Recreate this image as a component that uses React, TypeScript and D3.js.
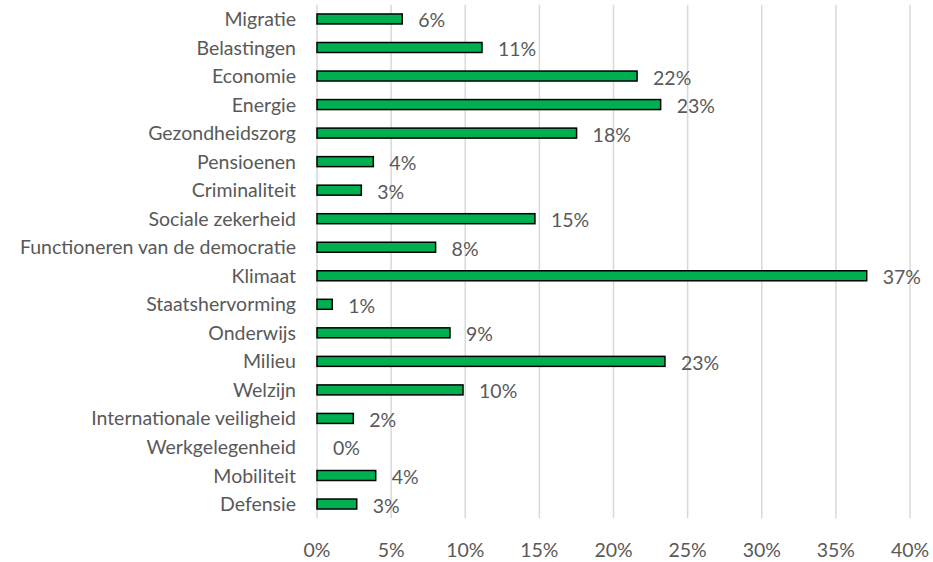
import React from "react";
import * as d3 from "d3";

const categories = [
  "Migratie",
  "Belastingen",
  "Economie",
  "Energie",
  "Gezondheidszorg",
  "Pensioenen",
  "Criminaliteit",
  "Sociale zekerheid",
  "Functioneren van de democratie",
  "Klimaat",
  "Staatshervorming",
  "Onderwijs",
  "Milieu",
  "Welzijn",
  "Internationale veiligheid",
  "Werkgelegenheid",
  "Mobiliteit",
  "Defensie",
];

const values = [
  0.0575, 0.1113, 0.2159, 0.2318, 0.1751, 0.038, 0.0299, 0.147, 0.08, 0.3708,
  0.0103, 0.0897, 0.2347, 0.0985, 0.0245, 0.0, 0.0396, 0.0268,
];

const xTicks = [0, 0.05, 0.1, 0.15, 0.2, 0.25, 0.3, 0.35, 0.4];

const W = 933;
const H = 562;
const FONT = "Lato, 'Open Sans', sans-serif";
const TEXT = "#595959";

export default function App() {
  const x = d3.scaleLinear().domain([0, 0.4]).range([317, 910]);
  const y = d3
    .scaleBand<string>()
    .domain(categories)
    .range([4.7, 518.3])
    .paddingInner(0.65)
    .paddingOuter(0.325);
  const fmt = d3.format(".0%");
  const plotTop = 4.7;
  const plotBottom = 518.3;

  return (
    <svg
      width={W}
      height={H}
      style={{ position: "absolute", left: 0, top: 0, background: "#fff" }}
      fontFamily={FONT}
    >
      <rect x={0} y={0} width={W} height={H} fill="#fff" />
      {xTicks.map((t) => (
        <line
          key={"g" + t}
          x1={x(t)}
          x2={x(t)}
          y1={plotTop}
          y2={plotBottom}
          stroke="#d9d9d9"
          strokeWidth={1.5}
        />
      ))}
      {xTicks.map((t) => (
        <text
          key={"t" + t}
          x={x(t)}
          y={550}
          dy="0.36em"
          textAnchor="middle"
          fontSize={19.5}
          fill={TEXT}
        >
          {fmt(t)}
        </text>
      ))}
      {categories.map((c, i) => {
        const cy = (y(c) as number) + y.bandwidth() / 2;
        const v = values[i];
        return (
          <g key={c}>
            <text
              x={296}
              y={cy}
              dy="0.36em"
              textAnchor="end"
              fontSize={19.5}
              fill={TEXT}
            >
              {c}
            </text>
            {v > 0 && (
              <rect
                x={x(0)}
                y={y(c) as number}
                width={x(v) - x(0)}
                height={y.bandwidth()}
                fill="#00b050"
                stroke="#000"
                strokeWidth={1.5}
              />
            )}
            <text
              x={x(v) + 16}
              y={cy + 1.5}
              dy="0.36em"
              textAnchor="start"
              fontSize={19.5}
              fill={TEXT}
            >
              {fmt(Math.round(v * 100) / 100)}
            </text>
          </g>
        );
      })}
    </svg>
  );
}
